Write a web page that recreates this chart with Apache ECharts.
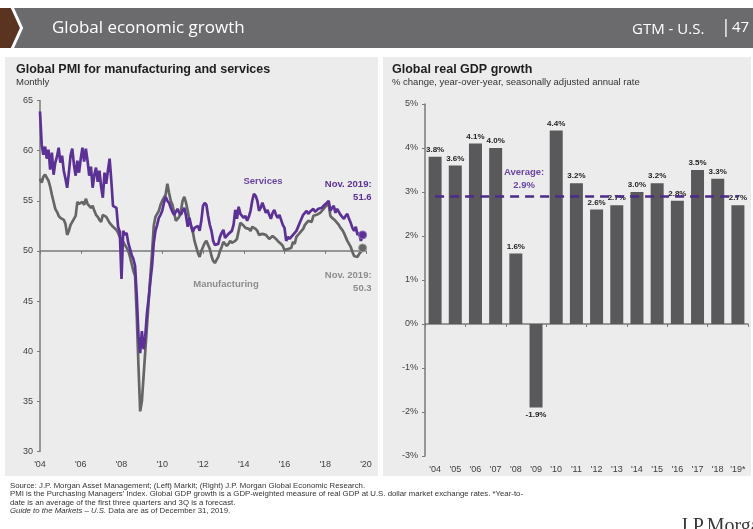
<!DOCTYPE html>
<html>
<head>
<meta charset="utf-8">
<script src="https://cdn.jsdelivr.net/npm/echarts/dist/echarts.min.js"></script>
<style>
  html, body { margin: 0; padding: 0; background: #ffffff; }
  #chart { width: 753px; height: 529px; }
</style>
</head>
<body>
<div id="chart"></div>
<script>
// ---- Global PMI, monthly, Jan 2004 to Nov 2019 ----
const pmiStartYear = 2004;
const servicesPmi = [
  63.9, 60.6, 59.6, 60.4, 59.2, 60.1, 58.1, 59.8, 57.6, 58.8, 59.4, 60.3, // 2004
  58.8, 59.5, 58.0, 57.2, 56.3, 57.8, 59.5, 60.2, 58.6, 57.5, 59.0, 57.8, // 2005
  59.2, 60.3, 58.9, 60.2, 59.0, 57.5, 58.4, 56.3, 57.6, 58.3, 56.9, 58.0, // 2006
  56.4, 55.3, 57.8, 56.7, 58.0, 59.2, 57.0, 54.5, 54.4, 54.3, 52.4, 51.9, // 2007
  47.2, 52.0, 51.6, 51.8, 50.8, 50.2, 49.6, 49.2, 48.5, 45.5, 41.5, 39.8, // 2008
  42.0, 40.2, 41.5, 43.8, 45.3, 47.0, 48.5, 50.8, 52.0, 52.6, 53.3, 53.6, // 2009
  54.0, 54.8, 55.4, 55.0, 54.8, 54.3, 53.9, 53.6, 53.9, 54.2, 53.8, 53.6, // 2010
  54.0, 54.3, 53.5, 52.4, 53.3, 52.5, 51.9, 52.3, 52.2, 52.5, 52.0, 53.0, // 2011
  54.5, 54.8, 54.6, 53.5, 52.6, 52.0, 51.0, 50.6, 50.6, 50.7, 51.4, 51.8, // 2012
  52.1, 51.3, 51.5, 51.7, 51.6, 52.0, 52.6, 54.1, 53.2, 54.4, 53.7, 53.6, // 2013
  53.3, 53.5, 53.0, 53.4, 54.0, 55.0, 55.7, 55.5, 55.0, 54.0, 54.3, 54.8, // 2014
  54.3, 53.8, 54.1, 53.6, 53.2, 53.8, 54.1, 53.6, 53.3, 53.6, 53.1, 52.6, // 2015
  52.3, 51.0, 51.4, 51.2, 51.3, 51.6, 51.5, 52.0, 52.4, 52.8, 53.2, 53.6, // 2016
  53.8, 54.0, 53.7, 53.9, 54.0, 54.2, 53.9, 54.0, 54.2, 54.1, 54.3, 54.5, // 2017
  54.6, 54.8, 55.0, 54.0, 54.3, 54.5, 53.8, 54.2, 54.3, 53.6, 53.4, 53.2, // 2018
  53.5, 53.7, 53.2, 52.8, 52.3, 52.0, 52.4, 51.6, 51.8, 51.0, 51.6        // 2019
];
const manufacturingPmi = [
  57.2, 56.8, 57.4, 57.6, 57.7, 57.0, 56.4, 55.6, 54.9, 54.2, 53.9, 53.5, // 2004
  53.3, 53.4, 53.1, 52.7, 51.6, 52.0, 52.6, 52.9, 53.2, 53.5, 54.9, 54.7, // 2005
  54.8, 54.9, 54.6, 55.2, 54.7, 54.6, 54.3, 54.5, 54.0, 53.6, 53.4, 53.1, // 2006
  52.9, 53.6, 53.5, 53.4, 53.1, 52.8, 52.6, 52.4, 52.3, 52.1, 51.8, 51.4, // 2007
  51.2, 51.1, 50.6, 50.5, 50.0, 49.4, 48.7, 48.0, 47.5, 43.5, 38.5, 34.0, // 2008
  35.0, 37.5, 40.0, 42.5, 45.0, 47.5, 49.8, 52.5, 53.4, 53.5, 54.0, 54.6, // 2009
  55.0, 55.3, 55.6, 56.7, 55.8, 55.0, 54.6, 53.8, 53.0, 53.1, 53.4, 54.0, // 2010
  55.0, 55.4, 54.8, 54.0, 53.0, 52.5, 51.9, 51.0, 50.4, 49.8, 49.4, 50.0, // 2011
  50.4, 50.8, 51.0, 50.9, 50.2, 49.5, 49.0, 48.8, 49.1, 49.4, 50.0, 50.4, // 2012
  50.9, 50.7, 50.5, 50.7, 51.0, 50.8, 50.7, 51.0, 51.2, 52.0, 52.8, 52.7, // 2013
  52.5, 52.3, 52.2, 52.2, 52.0, 52.4, 52.5, 52.2, 52.0, 51.6, 51.5, 51.7, // 2014
  51.8, 51.6, 51.5, 51.2, 51.3, 51.5, 51.4, 51.2, 51.0, 50.9, 50.7, 50.5, // 2015
  50.1, 50.0, 50.2, 50.1, 50.3, 50.9, 50.7, 51.4, 51.6, 51.8, 52.0, 52.2, // 2016
  52.6, 52.8, 53.0, 53.0, 52.9, 53.5, 53.4, 53.6, 53.7, 53.8, 54.0, 54.2, // 2017
  54.4, 54.5, 54.7, 53.5, 53.3, 53.2, 53.0, 52.8, 52.6, 52.3, 52.1, 51.8, // 2018
  51.4, 51.0, 50.7, 50.4, 49.9, 49.5, 49.4, 49.4, 49.7, 49.9, 50.3        // 2019
];
const pmiAxisMin = 30, pmiAxisMax = 65, pmiAxisStep = 5;
const pmiThreshold = 50;

// ---- Global real GDP growth, % y/y ----
const gdpYears = ["'04", "'05", "'06", "'07", "'08", "'09", "'10", "'11",
                  "'12", "'13", "'14", "'15", "'16", "'17", "'18", "'19*"];
const gdpGrowth = [3.8, 3.6, 4.1, 4.0, 1.6, -1.9, 4.4, 3.2,
                   2.6, 2.7, 3.0, 3.2, 2.8, 3.5, 3.3, 2.7];
const gdpAverage = 2.9;

const PURPLE = '#5c3196';
const GREY_LINE = '#666668';
const BAR = '#59595b';
const AXIS = '#7a7a7a';
const LABEL = '#404040';
const SANS = "'Liberation Sans', Arial, sans-serif";
const HEAD = "'Open Sans', sans-serif";

const pmiDates = servicesPmi.map((_, i) => pmiStartYear + i / 12);
const toPairs = arr => arr.map((v, i) => [pmiDates[i], v]);
const lastS = servicesPmi.length - 1;
const lastM = manufacturingPmi.length - 1;

const leftGrid = { left: 40, top: 100.5, width: 326, height: 351 };
const rightGrid = { left: 425, top: 104, width: 323, height: 352 };
// distance of the 50 line above the bottom of the PMI plot
const thresholdOffset = -(pmiThreshold - pmiAxisMin) / (pmiAxisMax - pmiAxisMin) * leftGrid.height;

const chart = echarts.init(document.getElementById('chart'), null, { renderer: 'canvas' });

const footLines = [
  'Source: J.P. Morgan Asset Management; (Left) Markit; (Right) J.P. Morgan Global Economic Research.',
  "PMI is the Purchasing Managers' Index. Global GDP growth is a GDP-weighted measure of real GDP at U.S. dollar market exchange rates. *Year-to-",
  'date is an average of the first three quarters and 3Q is a forecast.'
];

chart.setOption({
  animation: false,
  backgroundColor: '#ffffff',
  textStyle: { fontFamily: SANS },
  graphic: [
    // header band
    { type: 'rect', z: -20, shape: { x: 0, y: 8, width: 753, height: 40 }, style: { fill: '#6b6b6e' } },
    { type: 'polygon', z: -19, shape: { points: [[0, 8], [11, 8], [20, 28], [11, 48], [0, 48]] }, style: { fill: '#5b3421' } },
    { type: 'polyline', z: -18, shape: { points: [[12, 7], [21.5, 28], [12, 49]] }, style: { stroke: '#ffffff', lineWidth: 3, fill: null } },
    { type: 'text', x: 52, y: 28, style: { text: 'Global economic growth', fill: '#ffffff', font: '17px ' + HEAD, textVerticalAlign: 'middle' } },
    { type: 'text', x: 632, y: 29.5, style: { text: 'GTM - U.S.', fill: '#ffffff', font: '15px ' + HEAD, textVerticalAlign: 'middle' } },
    { type: 'text', x: 721, y: 28, style: { text: '|', fill: '#ffffff', font: '18px ' + HEAD, textVerticalAlign: 'middle' } },
    { type: 'text', x: 732, y: 28, style: { text: '47', fill: '#ffffff', font: '15px ' + HEAD, textVerticalAlign: 'middle' } },
    // panels
    { type: 'rect', z: -20, shape: { x: 5, y: 57, width: 373, height: 419 }, style: { fill: '#ececec' } },
    { type: 'rect', z: -20, shape: { x: 383, y: 57, width: 368, height: 419 }, style: { fill: '#ececec' } },
    // panel titles
    { type: 'text', left: 16, top: 63, style: { text: 'Global PMI for manufacturing and services', fill: '#1e1e1e', font: 'bold 12.5px ' + SANS } },
    { type: 'text', left: 16, top: 77, style: { text: 'Monthly', fill: '#333333', font: '9.5px ' + SANS } },
    { type: 'text', left: 392, top: 63, style: { text: 'Global real GDP growth', fill: '#1e1e1e', font: 'bold 12.5px ' + SANS } },
    { type: 'text', left: 392, top: 77, style: { text: '% change, year-over-year, seasonally adjusted annual rate', fill: '#333333', font: '9.5px ' + SANS } },
    // series names
    { type: 'text', x: 263, y: 181, style: { text: 'Services', fill: '#6a45a3', font: 'bold 9.5px ' + SANS, textAlign: 'center', textVerticalAlign: 'middle' } },
    { type: 'text', x: 226, y: 284, style: { text: 'Manufacturing', fill: '#8d8d8d', font: 'bold 9.5px ' + SANS, textAlign: 'center', textVerticalAlign: 'middle' } },
    // footnotes
    { type: 'text', left: 10, top: 482, style: { text: footLines.join('\n'), fill: '#333333', font: "7.8px 'Liberation Sans Narrow', 'Liberation Sans', sans-serif", lineHeight: 8.2 } },
    { type: 'text', left: 10, top: 506.6, style: {
        text: '{i|Guide to the Markets – U.S.} Data are as of December 31, 2019.', fill: '#333333', font: "7.8px 'Liberation Sans Narrow', 'Liberation Sans', sans-serif",
        rich: { i: { fontStyle: 'italic', fontSize: 7.8, fontFamily: "'Liberation Sans Narrow', 'Liberation Sans', sans-serif", fill: '#333333' } } } },
    { type: 'text', left: 680, top: 517, style: { text: 'J.P.Morgan', fill: '#3a3a3a', font: "20px 'Liberation Serif', serif" } }
  ],
  grid: [leftGrid, rightGrid],
  xAxis: [
    { gridIndex: 0, type: 'value', min: 2004, max: 2020, interval: 2, position: 'bottom',
      axisLine: { show: false }, axisTick: { show: false }, splitLine: { show: false },
      axisLabel: { color: LABEL, fontSize: 9, margin: 9, formatter: v => "'" + String(v).slice(2) } },
    { gridIndex: 0, type: 'value', min: 2004, max: 2020, interval: 2, position: 'bottom', offset: thresholdOffset,
      axisLine: { show: true, lineStyle: { color: AXIS, width: 1.5 } },
      axisTick: { show: true, length: 3, lineStyle: { color: AXIS } },
      axisLabel: { show: false }, splitLine: { show: false } },
    { gridIndex: 1, type: 'category', data: gdpYears, position: 'bottom',
      axisLine: { show: false, onZero: false }, axisTick: { show: false },
      axisLabel: { color: LABEL, fontSize: 9, margin: 9, interval: 0 } },
    { gridIndex: 1, type: 'category', data: gdpYears, position: 'bottom',
      axisLine: { show: true, onZero: true, lineStyle: { color: AXIS, width: 1.5 } },
      axisTick: { show: true, length: 3, lineStyle: { color: AXIS } },
      axisLabel: { show: false } }
  ],
  yAxis: [
    { gridIndex: 0, type: 'value', min: pmiAxisMin, max: pmiAxisMax, interval: pmiAxisStep,
      axisLine: { show: true, lineStyle: { color: AXIS, width: 1.5 } },
      axisTick: { show: true, length: 3, lineStyle: { color: AXIS } },
      splitLine: { show: false },
      axisLabel: { color: LABEL, fontSize: 9, margin: 7 } },
    { gridIndex: 1, type: 'value', min: -3, max: 5, interval: 1,
      axisLine: { show: true, lineStyle: { color: AXIS, width: 1.5 } },
      axisTick: { show: true, length: 3, lineStyle: { color: AXIS } },
      splitLine: { show: false },
      axisLabel: { color: LABEL, fontSize: 9, margin: 7, formatter: '{value}%' } }
  ],
  series: [
    {
      name: 'Manufacturing', type: 'line', xAxisIndex: 0, yAxisIndex: 0, z: 3,
      data: toPairs(manufacturingPmi), showSymbol: false,
      lineStyle: { color: GREY_LINE, width: 2.7 },
      markPoint: {
        symbol: 'circle', symbolSize: 8,
        itemStyle: { color: GREY_LINE, borderColor: '#9a9a9a', borderWidth: 1 },
        data: [{ coord: [pmiDates[lastM], manufacturingPmi[lastM]], value: manufacturingPmi[lastM] }],
        label: { show: true, position: 'bottom', align: 'right', offset: [9, 11],
                 formatter: p => 'Nov. 2019:\n' + p.value.toFixed(1),
                 color: '#8d8d8d', fontWeight: 'bold', fontSize: 9.5, lineHeight: 13 }
      }
    },
    {
      name: 'Services', type: 'line', xAxisIndex: 0, yAxisIndex: 0, z: 4,
      data: toPairs(servicesPmi), showSymbol: false,
      lineStyle: { color: PURPLE, width: 2.7 },
      markPoint: {
        symbol: 'circle', symbolSize: 8,
        itemStyle: { color: PURPLE, borderColor: '#8a6bbf', borderWidth: 1 },
        data: [{ coord: [pmiDates[lastS], servicesPmi[lastS]], value: servicesPmi[lastS] }],
        label: { show: true, position: 'top', align: 'right', offset: [9, -22],
                 formatter: p => 'Nov. 2019:\n' + p.value.toFixed(1),
                 color: PURPLE, fontWeight: 'bold', fontSize: 9.5, lineHeight: 13 }
      }
    },
    {
      name: 'GDP', type: 'bar', xAxisIndex: 2, yAxisIndex: 1, barWidth: 13,
      itemStyle: { color: BAR },
      data: gdpGrowth.map(v => ({ value: v, label: { position: v < 0 ? 'bottom' : 'top' } })),
      label: { show: true, distance: 3, color: '#1e1e1e', fontWeight: 'bold', fontSize: 8,
               formatter: p => p.value.toFixed(1) + '%' },
      markLine: {
        silent: true, symbol: 'none',
        lineStyle: { color: '#4b2a8a', width: 2.7, type: [9, 6] },
        label: { show: false },
        data: [[{ coord: [gdpYears[0], gdpAverage] }, { coord: [gdpYears[gdpYears.length - 1], gdpAverage] }]]
      },
      markPoint: {
        symbol: 'circle', symbolSize: 0,
        data: [{ coord: [gdpYears[5], gdpAverage], value: gdpAverage }],
        label: { show: true, offset: [-12, -18], color: '#6a45a3', fontWeight: 'bold', fontSize: 9.5, lineHeight: 13,
                 formatter: p => 'Average:\n' + p.value.toFixed(1) + '%' }
      }
    }
  ]
});
</script>
</body>
</html>
